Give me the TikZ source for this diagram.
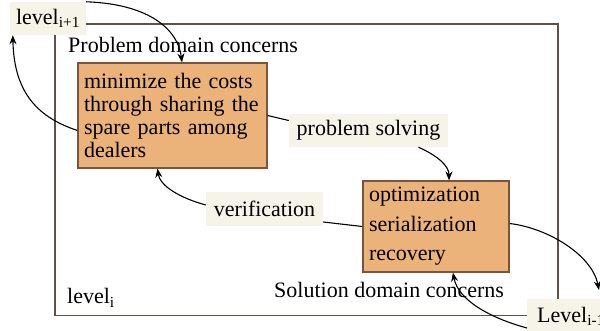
\documentclass[tikz,border=0pt]{standalone}
\usepackage{fontspec}
\setmainfont{Liberation Serif}
\usetikzlibrary{arrows.meta}
\definecolor{boxfill}{RGB}{235,178,122}
\definecolor{boxline}{RGB}{120,85,60}
\definecolor{lblfill}{RGB}{246,243,233}
\definecolor{framecol}{RGB}{95,80,72}
\tikzset{
  concern/.style={draw=boxline, line width=1.2pt, fill=boxfill, align=left, inner ysep=0pt, inner xsep=6pt, font=\fontsize{22}{23.3}\selectfont},
  lbl/.style={fill=lblfill, inner sep=0pt, font=\fontsize{22}{26}\selectfont},
  plain/.style={inner sep=0pt, anchor=base west, font=\fontsize{22}{26}\selectfont},
  conn/.style={line width=1.1pt, -{Stealth[length=9pt,width=7pt]}},
  link/.style={line width=1.1pt}
}
\begin{document}
\begin{tikzpicture}[x=1pt,y=-1pt]
\useasboundingbox (0,0) rectangle (600,331);
\clip (0,0) rectangle (600,331);
\draw[framecol, line width=1.8pt] (55,24) rectangle (558,315.5);
\node[concern, text width=177pt, minimum width=189pt, minimum height=105pt] (box1) at (172.5,115.5)
  {minimize the costs\\through sharing the\\spare parts among\\dealers};
\node[concern, font=\fontsize{22}{29.5}\selectfont, text width=134pt, minimum width=146pt, minimum height=91pt] (box2) at (436,226.5)
  {optimization\\serialization\\recovery};
\node[lbl, minimum width=76pt, minimum height=33pt] (lvlup) at (48,18.5) {level\textsubscript{i+1}};
\node[lbl, minimum width=159pt, minimum height=33pt] (ps) at (368.5,130.5) {problem solving};
\node[lbl, minimum width=117pt, minimum height=34pt] (ver) at (264.5,209) {verification};
\node[lbl, anchor=north west, inner xsep=10pt, minimum height=34pt] (lvldown) at (527,299) {Level\textsubscript{i-1}};
\node[plain] (pdc) at (68,53) {Problem domain concerns};
\node[plain] (lvli) at (67,304) {level\textsubscript{i}};
\node[plain] (sdc) at (274,298) {Solution domain concerns};
\draw[conn] (lvlup.north east) .. controls (150,4) and (178,30) .. ([xshift=9.5pt]box1.north);
\draw[conn] ([yshift=-15pt]box1.west) .. controls (40,118) and (14,95) .. ([xshift=3pt]lvlup.south west);
\draw[link] (box1.east) -- ([yshift=10pt]ps.west);
\draw[conn] ([xshift=50pt]ps.south) .. controls (438,156) and (449,166) .. ([xshift=13pt]box2.north);
\draw[link] (box2.west) -- ([yshift=-13pt]ver.east);
\draw[conn] ([yshift=4pt]ver.west) .. controls (180,198) and (160,186) .. ([xshift=-15pt]box1.south);
\draw[conn] ([yshift=3pt]box2.east) .. controls (548,228) and (592,255) .. ([xshift=72pt,yshift=9pt]lvldown.north west);
\draw[conn] ([yshift=-29pt]lvldown.north west) .. controls (490,318) and (458,300) .. ([xshift=17pt]box2.south);
\end{tikzpicture}
\end{document}
